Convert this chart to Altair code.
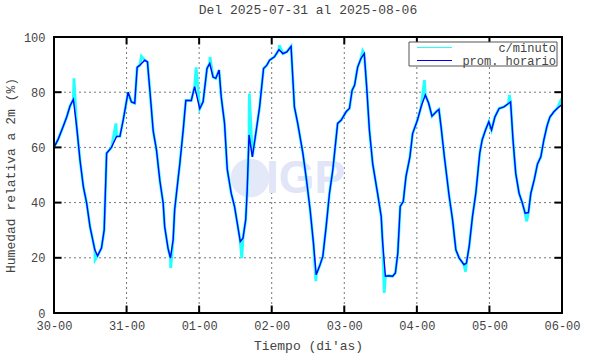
import altair as alt
import pandas as pd

# ---------------- data ----------------
hours = [0, 1.4, 3, 4.2, 5.3, 6.4, 7.5, 8.6, 9.7, 10.8, 11.9, 13.5, 14.4, 15.7, 16.6, 17.4,
         19, 20.7, 21.8, 22.9, 24.5, 25.6, 26.7, 27.5, 28.4, 30, 30.9, 31.7, 32.8, 33.9, 35,
         36.1, 36.6, 37.7, 38.5, 39.4, 39.9, 41, 41.6, 42.7, 43.6, 45.4, 46.5, 48.2, 49.3,
         50.6, 51.5, 52.6, 53.5, 54.6, 55.3, 56.4, 57.3, 58.6, 59.7, 60.8, 61.6, 62.5, 63.4,
         63.9, 64.5, 65.6, 66.9, 68, 69.3, 70.4, 71.3, 72.9, 74.4, 75.7, 77, 78.4, 79.5, 80.6,
         82.3, 83.5, 84.7, 85.8, 86.7, 87.8, 88.9, 90, 91.1, 92.2, 93.8, 95, 96.6, 97.7, 98.6,
         99.4, 100.4, 101.5, 102.6, 103.4, 104.3, 105.4, 107, 108.2, 108.7, 109.6, 110.7, 112,
         112.9, 113.7, 114.5, 115.5, 116.4, 117.7, 118.6, 120.2, 121.4, 122.8, 123.9, 125,
         126.4, 127.3, 128, 129.1, 130.7, 131.8, 132.9, 134, 135.6, 136.4, 137.3, 138.4, 139.5,
         140.8, 141.6, 142.7, 143.8, 144.7, 145.8, 147.2, 148.8, 150.3, 151, 151.8, 152.7,
         153.8, 154.9, 155.8, 156.9, 157.7, 158.8, 159.9, 161, 162, 163.1, 164, 165.3, 166.4, 168]
hourly = [60, 63, 67.5, 71, 75, 77.4, 67.5, 55.4, 45.8, 39.8, 31.3, 22.9, 20.7, 23.5, 30.1, 57.9,
          60, 64, 64, 70, 80, 76.5, 76, 89, 89.8, 91.6, 91, 80.7, 66, 59, 48,
          39.8, 31.3, 23.5, 19.9, 26.5, 37.4, 48.2, 54, 66, 77, 77, 82, 74, 76.5,
          88.6, 90.4, 85.5, 85, 88, 78.3, 68.7, 52, 43.4, 38.6, 31.3, 25.9, 27.1, 33.8,
          44.6, 64.5, 56.6, 66.3, 74.7, 88.6, 89.8, 91.6, 92.8, 95.4, 94, 94.6, 96.6, 74.7, 68.7,
          57.9, 48.2, 37.4, 25.3, 13.9, 16.9, 20.5, 31.3, 43.4, 51.8, 68.7, 69.9, 72.9, 74.1, 80.7,
          82.5, 89, 92.2, 94, 82, 66.3, 54, 43.4, 35, 25.3, 13.3, 13.5, 13.3,
          14.5, 21.7, 38.6, 40.4, 49.4, 56.6, 65, 69.9, 74.7, 79, 76, 71.3,
          72.9, 73.8, 67.5, 56.6, 42.2, 33.8, 22.9, 19.9, 17.5, 18.1, 24.1, 35, 43.4,
          57.9, 62.7, 66.3, 69.3, 66.3, 71, 74.1, 74.7, 75.9, 76.5, 62.7, 50.6,
          43.4, 39.8, 36.2, 36.4, 43.4, 48.2, 54, 56.6, 62.7, 68, 71, 72.9, 74.1, 75.5]

# per-minute extremes visible as cyan spikes
spike_hours = [6.6, 13.6, 20.5, 28.9, 38.6, 47, 51.6, 62.1, 64.6, 74.5, 86.6, 102.1,
               109.2, 122.5, 136.1, 150.6, 156.3, 167.9]
spike_values = [85, 19.3, 68.7, 93, 16.3, 89, 92.8, 19.9, 79.5, 97, 11.5, 95,
                7.3, 84.4, 15, 79, 33.2, 77.7]

day_ticks = [0, 24, 48, 72, 96, 120, 144, 168]
day_labels = ["30-00", "31-00", "01-00", "02-00", "03-00", "04-00", "05-00", "06-00"]
y_ticks = [0, 20, 40, 60, 80, 100]
legend_labels = ["c/minuto", "prom. horario"]
title_text = "Del 2025-07-31 al 2025-08-06"
x_title = "Tiempo (di'as)"
y_title = "Humedad relativa a 2m (%)"

W, H = 508, 276
FONT = "Liberation Mono"
TXT = "#444444"
TICK_V = 2.7   # inward tick length in y units (~7.5 px)
TICK_H = 2.5   # inward tick length in x units (~7.5 px)
X0, X1 = day_ticks[0], day_ticks[-1]
Y0, Y1 = y_ticks[0], y_ticks[-1]

# ---------------- one long table: series + grid + ticks ----------------
rows = []
for i, (h, v) in enumerate(zip(hours, hourly)):
    rows.append(("b", "b", i, float(h), float(v)))
cyan_pts = sorted(list(zip(hours, hourly)) + list(zip(spike_hours, spike_values)),
                  key=lambda p: p[0])
for i, (h, v) in enumerate(cyan_pts):
    rows.append(("c", "c", i, float(h), float(v)))
for d in day_ticks[1:-1]:
    rows += [("g", f"x{d}", 0, float(d), float(Y1)), ("g", f"x{d}", 1, float(d), float(Y0))]
    rows += [("t", f"b{d}", 0, float(d), float(Y0)), ("t", f"b{d}", 1, float(d), Y0 + TICK_V),
             ("t", f"t{d}", 0, float(d), Y1 - TICK_V), ("t", f"t{d}", 1, float(d), float(Y1))]
for v in y_ticks[1:-1]:
    rows += [("g", f"y{v}", 0, float(X0), float(v)), ("g", f"y{v}", 1, float(X1), float(v))]
    rows += [("t", f"l{v}", 0, float(X0), float(v)), ("t", f"l{v}", 1, X0 + TICK_H, float(v)),
             ("t", f"r{v}", 0, X1 - TICK_H, float(v)), ("t", f"r{v}", 1, float(X1), float(v))]
df = pd.DataFrame(rows, columns=["s", "g", "o", "h", "v"])

label_expr = "[" + ",".join("'%s'" % s for s in day_labels) + "][round(datum.value/24)]"

xs = alt.Scale(domain=[X0, X1], nice=False, zero=False)
ys = alt.Scale(domain=[Y0, Y1], nice=False)

axis_font = dict(labelFont=FONT, labelFontSize=12, labelColor=TXT, titleFont=FONT,
                 titleFontSize=13, titleColor=TXT, titleFontWeight="normal")
x_axis = alt.Axis(values=day_ticks, labelExpr=label_expr, title=x_title, grid=False,
                  ticks=False, domain=False, labelPadding=7, titlePadding=8,
                  labelFlush=False, **axis_font)
y_axis = alt.Axis(values=y_ticks, title=y_title, grid=False, ticks=False, domain=False,
                  labelPadding=9, titlePadding=6, **axis_font)

X = alt.X("h:Q", scale=xs, axis=x_axis, title=x_title)
Y = alt.Y("v:Q", scale=ys, axis=y_axis, title=y_title)

base = alt.Chart(df).encode(x=X, y=Y, detail="g:N", order="o:Q")

cyan = base.transform_filter("datum.s == 'c'").mark_line(color="#22ffff", strokeWidth=2.8,
                                                         clip=True)
grid = base.transform_filter("datum.s == 'g'").mark_line(color="#777777", strokeWidth=1,
                                                         strokeDash=[2, 3])
blue = base.transform_filter("datum.s == 'b'").mark_line(color="#0000ff", strokeWidth=1.4,
                                                         clip=True)
ticks = base.transform_filter("datum.s == 't'").mark_line(color="black", strokeWidth=2)

# watermark
one = pd.DataFrame({"k": [0]})
wm_circle = alt.Chart(one).mark_point(filled=True, color="#e4e9fa", opacity=1, size=1500).encode(
    x=alt.value(196), y=alt.value(141))
wm_text = alt.Chart(pd.DataFrame({"t": ["IGP"]})).mark_text(
    font="Liberation Sans", fontSize=46, fontWeight="bold", color="#e2e4f7", align="left",
    baseline="middle").encode(text="t:N", x=alt.value(212), y=alt.value(142))

# frame
frame = alt.Chart(one).mark_rect(filled=False, stroke="black", strokeWidth=2).encode(
    x=alt.value(0), x2=alt.value(W), y=alt.value(0), y2=alt.value(H))

# legend
leg_box = alt.Chart(one).mark_rect(fill="white", stroke="#555555", strokeWidth=1).encode(
    x=alt.value(355), x2=alt.value(503), y=alt.value(5), y2=alt.value(29))
leg_c = alt.Chart(one).mark_rule(color="#22ffff", strokeWidth=1.2).encode(
    x=alt.value(363), x2=alt.value(398), y=alt.value(10.5))
leg_b = alt.Chart(one).mark_rule(color="#0000ff", strokeWidth=1.2).encode(
    x=alt.value(363), x2=alt.value(398), y=alt.value(23.5))
txt_kw = dict(font=FONT, fontSize=12, color=TXT, align="right", baseline="middle")
leg_t1 = alt.Chart(pd.DataFrame({"lab": [legend_labels[0]]})).mark_text(**txt_kw).encode(
    text="lab:N", x=alt.value(502), y=alt.value(10.5))
leg_t2 = alt.Chart(pd.DataFrame({"lab": [legend_labels[1]]})).mark_text(**txt_kw).encode(
    text="lab:N", x=alt.value(502), y=alt.value(23.5))

chart = alt.layer(
    grid, wm_circle, wm_text, cyan, blue, ticks, frame,
    leg_box, leg_c, leg_b, leg_t1, leg_t2
).properties(
    width=W, height=H,
    background="white",
    title=alt.TitleParams(title_text, font=FONT, fontSize=13, fontWeight="normal",
                          color=TXT, anchor="middle", offset=14),
    autosize=alt.AutoSizeParams(type="none"),
    padding={"left": 54, "top": 37, "right": 590 - 54 - W, "bottom": 354 - 37 - H},
).configure_view(
    stroke=None
)

chart.save("out.html", embed_options={"renderer": "svg", "actions": False})
